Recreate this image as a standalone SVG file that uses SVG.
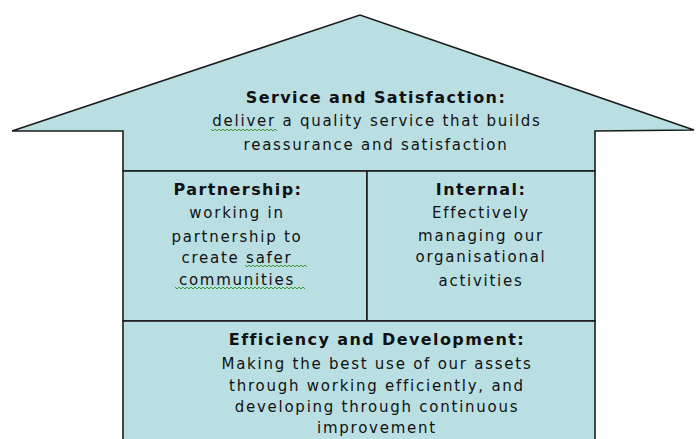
<svg xmlns="http://www.w3.org/2000/svg" width="696" height="439" viewBox="0 0 696 439">
<style>
.box{fill:#b9dfe3;stroke:#1c1c1c;stroke-width:1.6;stroke-linejoin:miter}
.t{font-family:"DejaVu Sans",Verdana,sans-serif;font-size:15px;fill:#111;text-anchor:middle;letter-spacing:1.75px}
.b{font-weight:bold;font-size:16px;letter-spacing:1.4px}
.sq{fill:none;stroke:#3a9a3a;stroke-width:1}
</style>
<rect width="696" height="439" fill="#fff"/>
<g id="service">
<polygon class="box" points="12,131 360,15 694,130 595,131 595,171 123,171 123,131"/>
<text class="t b" x="376" y="103">Service and Satisfaction:</text>
<text class="t" x="377" y="126">deliver a quality service that builds</text>
<text class="t" x="376" y="150">reassurance and satisfaction</text>
<path class="sq" d="M211,129 l2,2 l2,-2 l2,2 l2,-2 l2,2 l2,-2 l2,2 l2,-2 l2,2 l2,-2 l2,2 l2,-2 l2,2 l2,-2 l2,2 l2,-2 l2,2 l2,-2 l2,2 l2,-2 l2,2 l2,-2 l2,2 l2,-2 l2,2 l2,-2 l2,2 l2,-2 l2,2 l2,-2 l2,2 l2,-2 l2,2"/>
</g>
<g id="partnership">
<rect class="box" x="123" y="171" width="244" height="150"/>
<text class="t b" x="238" y="195">Partnership:</text>
<text class="t" x="237" y="218">working in</text>
<text class="t" x="237" y="242">partnership to</text>
<text class="t" x="237" y="263">create safer</text>
<text class="t" x="237" y="285">communities</text>
<path class="sq" d="M245,265 l2,2 l2,-2 l2,2 l2,-2 l2,2 l2,-2 l2,2 l2,-2 l2,2 l2,-2 l2,2 l2,-2 l2,2 l2,-2 l2,2 l2,-2 l2,2 l2,-2 l2,2 l2,-2 l2,2 l2,-2 l2,2 l2,-2 l2,2 l2,-2 l2,2 l2,-2 l2,2 l2,-2 l2,2"/>
<path class="sq" d="M175,287 l2,2 l2,-2 l2,2 l2,-2 l2,2 l2,-2 l2,2 l2,-2 l2,2 l2,-2 l2,2 l2,-2 l2,2 l2,-2 l2,2 l2,-2 l2,2 l2,-2 l2,2 l2,-2 l2,2 l2,-2 l2,2 l2,-2 l2,2 l2,-2 l2,2 l2,-2 l2,2 l2,-2 l2,2 l2,-2 l2,2 l2,-2 l2,2 l2,-2 l2,2 l2,-2 l2,2 l2,-2 l2,2 l2,-2 l2,2 l2,-2 l2,2 l2,-2 l2,2 l2,-2 l2,2 l2,-2 l2,2 l2,-2 l2,2 l2,-2 l2,2 l2,-2 l2,2 l2,-2 l2,2 l2,-2 l2,2 l2,-2 l2,2 l2,-2 l2,2"/>
</g>
<g id="internal">
<rect class="box" x="367" y="171" width="228" height="150"/>
<text class="t b" x="481" y="195">Internal:</text>
<text class="t" x="481" y="218">Effectively</text>
<text class="t" x="481" y="241">managing our</text>
<text class="t" x="481" y="262">organisational</text>
<text class="t" x="481" y="286">activities</text>
</g>
<g id="efficiency">
<rect class="box" x="123" y="321" width="472" height="130"/>
<text class="t b" x="377" y="345">Efficiency and Development:</text>
<text class="t" x="377" y="369">Making the best use of our assets</text>
<text class="t" x="377" y="391">through working efficiently, and</text>
<text class="t" x="377" y="412">developing through continuous</text>
<text class="t" x="377" y="433">improvement</text>
</g>
<g id="connectors"></g>
</svg>
